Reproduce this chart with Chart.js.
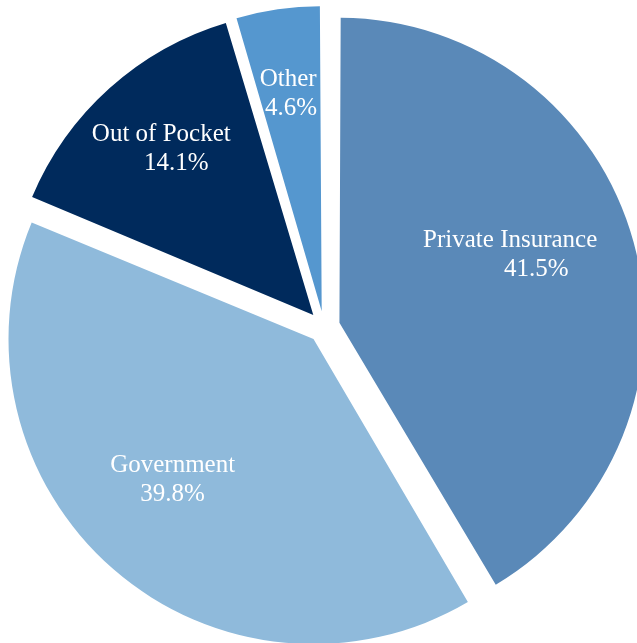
<!DOCTYPE html>
<html>
<head>
<meta charset="utf-8">
<script src="https://cdn.jsdelivr.net/npm/chart.js@4.4.1/dist/chart.umd.min.js"></script>
<style>
  html, body { margin: 0; padding: 0; background: #fff; overflow: hidden; }
  #wrap { position: absolute; left: 0; top: 0; width: 648px; height: 654px; }
</style>
</head>
<body>
<div id="wrap"><canvas id="pie" width="648" height="654"></canvas></div>
<script>
// payer mix, clockwise from 12 o'clock
const categories = ['Private Insurance', 'Government', 'Out of Pocket', 'Other'];
const shares = [41.5, 39.8, 14.1, 4.6];
const sliceColors = ['#5a89b8', '#8fbadb', '#002a5c', '#5597cf'];

// where each label sits inside its slice (fraction of radius, angle nudge in degrees,
// horizontal shift of the first / second line)
const labelLayout = [
  { f: 0.695, da: -4.7, dx1: -13, dx2: 13 },
  { f: 0.705, da: 3.7, dx1: 0, dx2: 0 },
  { f: 0.776, da: 0.8, dx1: -7, dx2: 8 },
  { f: 0.771, da: 0, dx1: -2, dx2: 1 }
];

const RADIUS = 305;
const GAP = 16; // px each slice is pulled out from the centre

// chart.js v4 moves a slice by offset/4 and also grows it by offset/4 * (1 - sin(circ)),
// shrink the radius back so all slices end up the same size
const keepRadius = {
  id: 'keepRadius',
  beforeDatasetsDraw(chart) {
    chart.getDatasetMeta(0).data.forEach(arc => {
      const circ = arc.endAngle - arc.startAngle;
      const fix = 1 - Math.sin(Math.min(Math.PI, circ));
      arc.outerRadius = RADIUS - GAP * fix;
    });
  }
};

const sliceLabels = {
  id: 'sliceLabels',
  afterDatasetsDraw(chart) {
    const ctx = chart.ctx;
    const meta = chart.getDatasetMeta(0);
    ctx.save();
    ctx.fillStyle = '#fff';
    ctx.font = '25px "Liberation Serif", "Times New Roman", serif';
    ctx.textAlign = 'center';
    ctx.textBaseline = 'middle';
    meta.data.forEach((arc, i) => {
      const p = arc.getProps(['x', 'y', 'startAngle', 'endAngle'], true);
      const lay = labelLayout[i];
      const mid = (p.startAngle + p.endAngle) / 2 + lay.da * Math.PI / 180;
      const cx = p.x + Math.cos(mid) * RADIUS * lay.f;
      const cy = p.y + Math.sin(mid) * RADIUS * lay.f;
      ctx.fillText(categories[i], cx + lay.dx1, cy - 14.5);
      ctx.fillText(shares[i].toFixed(1) + '%', cx + lay.dx2, cy + 14.5);
    });
    ctx.restore();
  }
};

new Chart(document.getElementById('pie'), {
  type: 'pie',
  data: {
    labels: categories,
    datasets: [{
      data: shares,
      backgroundColor: sliceColors,
      borderWidth: 0,
      offset: GAP * 4,
      hoverOffset: 0
    }]
  },
  options: {
    responsive: false,
    animation: false,
    events: [],
    radius: RADIUS,
    layout: { padding: 0 },
    plugins: {
      legend: { display: false },
      tooltip: { enabled: false }
    }
  },
  plugins: [keepRadius, sliceLabels]
});
</script>
</body>
</html>
